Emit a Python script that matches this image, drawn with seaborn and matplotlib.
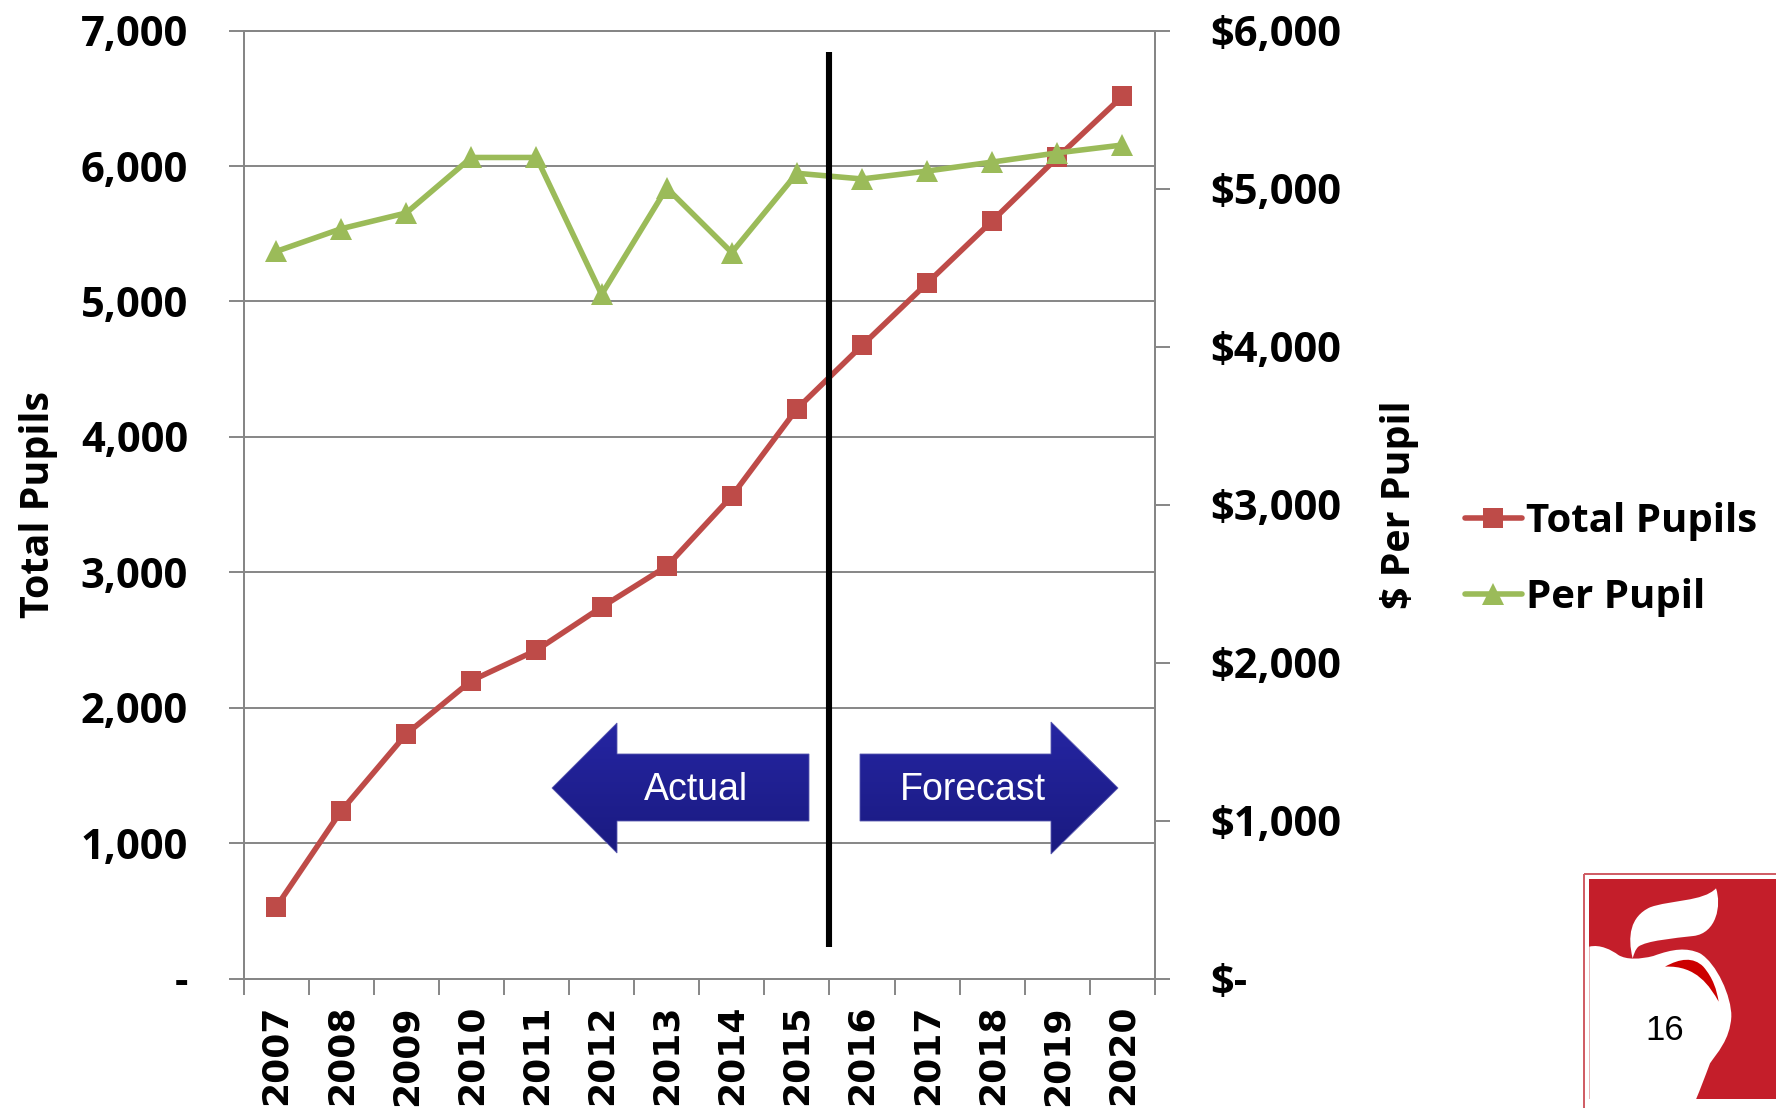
import numpy as np
import pandas as pd
import matplotlib
matplotlib.use("Agg")
import matplotlib.pyplot as plt
from matplotlib.patches import Polygon, PathPatch, Rectangle
from matplotlib.path import Path
import seaborn as sns

years = [2007, 2008, 2009, 2010, 2011, 2012, 2013, 2014, 2015, 2016, 2017, 2018, 2019, 2020]
total_pupils = [527, 1238, 1806, 2200, 2425, 2743, 3044, 3563, 4207, 4675, 5135, 5595, 6063, 6515]
per_pupil = [4602, 4746, 4846, 5197, 5197, 4330, 5004, 4595, 5097, 5061, 5111, 5168, 5226, 5276]
left_ticks = [0, 1000, 2000, 3000, 4000, 5000, 6000, 7000]
left_labels = ["-", "1,000", "2,000", "3,000", "4,000", "5,000", "6,000", "7,000"]
right_ticks = [0, 1000, 2000, 3000, 4000, 5000, 6000]
right_labels = ["$-", "$1,000", "$2,000", "$3,000", "$4,000", "$5,000", "$6,000"]

W, H = 1776, 1108
RED, GREEN, GRID = "#BE4B48", "#9BBB59", "#868686"
FONT = "Open Sans"

sns.set_theme(style="white")
plt.rcParams["font.family"] = [FONT, "DejaVu Sans"]
fig = plt.figure(figsize=(W / 100, H / 100), dpi=100, facecolor="white")
ax = fig.add_axes([243.5 / W, 1 - 978.6 / H, 911.5 / W, 948 / H])
ax2 = ax.twinx()
df = pd.DataFrame({"year": years, "Total Pupils": total_pupils, "Per Pupil": per_pupil})

sns.lineplot(data=df, x="year", y="Total Pupils", ax=ax, color=RED, lw=4, marker="s",
             markersize=15, markeredgewidth=0, label="Total Pupils", legend=False, zorder=5)
sns.lineplot(data=df, x="year", y="Per Pupil", ax=ax2, color=GREEN, lw=4, marker="^",
             markersize=16, markeredgewidth=0, label="Per Pupil", legend=False, zorder=5)

ax.set_xlim(2006.5, 2020.5)
ax.set_ylim(0, 7000)
ax2.set_ylim(0, 6000)
ax.set_xticks(np.arange(2006.5, 2021, 1))
ax.set_xticklabels([])
ax.set_xticks(years, minor=True)
ax.set_xticklabels([str(y) for y in years], minor=True, rotation=90, fontsize=26,
                   fontweight="bold", family="DejaVu Sans", va="top", ha="center", color="black")
ax.tick_params(axis="x", which="major", length=11.5, width=1.4, color=GRID, bottom=True)
ax.tick_params(axis="x", which="minor", length=0, pad=19, bottom=False)
ax.set_yticks(left_ticks)
ax.set_yticklabels(left_labels, fontsize=30, fontweight="bold", color="black")
ax.tick_params(axis="y", length=11, width=1.4, color=GRID, pad=29, left=True)
ax2.set_yticks(right_ticks)
ax2.set_yticklabels(right_labels, fontsize=30, fontweight="bold", color="black")
ax2.tick_params(axis="y", length=11, width=1.4, color=GRID, pad=29, right=True)
ax.grid(axis="y", color=GRID, lw=1.4)
ax.grid(axis="x", visible=False, which="both")
ax2.grid(False)
for a in (ax, ax2):
    for s in a.spines.values():
        s.set_color(GRID)
        s.set_linewidth(1.4)
ax.set_axisbelow(True)
ax.set_xlabel("")
ax.set_ylabel("Total Pupils", fontsize=28.4, fontweight="bold", color="black")
ax.yaxis.set_label_coords(-0.204, 0.5)
ax2.set_ylabel("$ Per Pupil", fontsize=28.4, fontweight="bold", color="black")
ax2.yaxis.set_label_coords(1.247, 0.5)

ax2.axvline(2015.5, ymin=(978.6 - 947) / 948, ymax=(978.6 - 52) / 948, color="black", lw=4.4,
            solid_capstyle="butt", zorder=6)

handles = [ax.get_lines()[0], ax2.get_lines()[0]]
leg = fig.legend(handles, ["Total Pupils", "Per Pupil"], loc="upper left",
                 bbox_to_anchor=(1465 / W, 1 - 502 / H), frameon=False, fontsize=29,
                 handlelength=1.41, handletextpad=0.1, labelspacing=0.91, borderpad=0, borderaxespad=0)
for t in leg.get_texts():
    t.set_fontweight("bold")
    t.set_color("black")

ov = fig.add_axes([0, 0, 1, 1], facecolor="none")
ov.set_axis_off()
grad = np.linspace(0, 1, 64).reshape(-1, 1)
cmap = matplotlib.colors.LinearSegmentedColormap.from_list("blue", ["#2525A2", "#1A1A80"])


def arrow(points):
    xs, ys = zip(*points)
    poly = Polygon(points, closed=True, facecolor="none", edgecolor="none")
    ov.add_patch(poly)
    im = ov.imshow(grad, extent=(min(xs), max(xs), max(ys), min(ys)), cmap=cmap, aspect="auto", zorder=7)
    im.set_clip_path(poly)
    ov.add_patch(Polygon(points, closed=True, facecolor="none", edgecolor="#5A5AB0", lw=0.6, zorder=7.5))


arrow([(552, 788), (617, 723), (617, 754), (809, 754), (809, 821), (617, 821), (617, 853)])
arrow([(1118, 788), (1051, 722), (1051, 754), (860, 754), (860, 821), (1051, 821), (1051, 854)])
ov.text(696, 790, "Actual", color="white", fontsize=27, family="Liberation Sans", ha="center", va="center", zorder=8)
ov.text(973, 790, "Forecast", color="white", fontsize=27, family="Liberation Sans", ha="center", va="center", zorder=8)


def z(x, y):
    return (1540 + x / 3, 850 + y / 3)


def curve(start, *segs):
    v, c = [z(*start)], [Path.MOVETO]
    for s in segs:
        if len(s) == 3:
            v += [z(*p) for p in s]
            c += [Path.CURVE4] * 3
        else:
            v.append(z(*s[0]))
            c.append(Path.LINETO)
    return Path(v, c)


LOGO = "#C41E2A"
ov.add_patch(Rectangle(z(132, 71), 240, 240, facecolor="none", edgecolor="#CF5A62", lw=1.4, zorder=2))
ov.add_patch(Rectangle(z(148, 87), 200, (748 - 87) / 3, facecolor=LOGO, edgecolor="none", zorder=3))
apple = curve((148, 290),
              ((180, 282), (215, 300), (235, 315)),
              ((260, 330), (300, 328), (340, 318)),
              ((400, 296), (440, 292), (480, 310)),
              ((530, 340), (575, 440), (574, 500)),
              ((570, 570), (530, 610), (510, 640)),
              ((495, 680), (480, 720), (468, 748)),
              ((148, 748),))
ov.add_patch(PathPatch(apple, facecolor="white", edgecolor="none", zorder=4))
leaf = curve((278, 325),
             ((262, 260), (270, 200), (330, 172)),
             ((390, 150), (490, 155), (528, 115)),
             ((545, 165), (530, 250), (460, 258)),
             ((400, 265), (320, 272), (295, 290)),
             ((285, 300), (282, 312), (278, 325)))
ov.add_patch(PathPatch(leaf, facecolor="white", edgecolor="none", zorder=4))
crescent = curve((375, 350),
                 ((420, 325), (460, 320), (490, 350)),
                 ((520, 385), (530, 420), (536, 455)),
                 ((510, 410), (470, 345), (375, 350)))
ov.add_patch(PathPatch(crescent, facecolor="#CC0000", edgecolor="none", zorder=5))
ov.text(1665, 1031, "16", color="black", fontsize=25, family="Liberation Sans", ha="center", va="center", zorder=8)
ov.set_xlim(0, W)
ov.set_ylim(H, 0)

fig.savefig("out.png", dpi=100, facecolor="white")
